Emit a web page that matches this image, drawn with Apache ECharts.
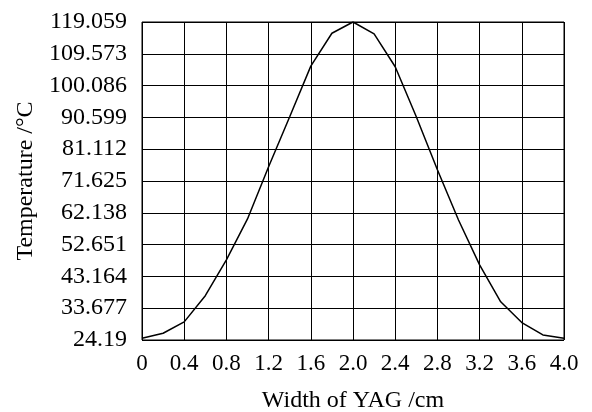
<!DOCTYPE html>
<html>
<head>
<meta charset="utf-8">
<script src="https://cdn.jsdelivr.net/npm/echarts@6/dist/echarts.min.js"></script>
<style>
  html, body { margin: 0; padding: 0; background: #fff; }
  #chart { width: 592px; height: 412px; }
</style>
</head>
<body>
<div id="chart"></div>
<script>
// width across the YAG crystal (cm), sampled every 0.2
const widths = [0, 0.2, 0.4, 0.6, 0.8, 1.0, 1.2, 1.4, 1.6, 1.8, 2.0,
  2.2, 2.4, 2.6, 2.8, 3.0, 3.2, 3.4, 3.6, 3.8, 4.0]
// temperature (°C)
const temps = [24.7, 26.2, 29.6, 37.4, 48.1, 60.3, 75.9, 90.8, 105.9, 115.7, 119.059,
  115.5, 105.7, 90.8, 75.0, 60.0, 46.6, 35.6, 29.4, 25.7, 24.7]

const yTickLabels = ['24.19', '33.677', '43.164', '52.651', '62.138', '71.625',
  '81.112', '90.599', '100.086', '109.573', '119.059']
const xTickLabels = ['0', '0.4', '0.8', '1.2', '1.6', '2.0', '2.4', '2.8', '3.2', '3.6', '4.0']

const yMin = 24.19
const yMax = 119.059
const yStep = (yMax - yMin) / 10

const FONT = "'Liberation Serif', 'DejaVu Serif', serif"

const chart = echarts.init(document.getElementById('chart'), null, { renderer: 'canvas' })

chart.setOption({
  animation: false,
  grid: {
    left: 142, right: 28, top: 22, bottom: 72,
    outerBoundsMode: 'none',
    show: true, borderColor: '#000', borderWidth: 1,
  },
  xAxis: {
    type: 'value',
    min: 0, max: 4, interval: 0.4,
    name: 'Width of YAG /cm',
    nameLocation: 'middle',
    nameGap: 49,
    nameTextStyle: { color: '#000', fontFamily: FONT, fontSize: 24 },
    axisLine: { show: false },
    axisTick: { show: false },
    axisLabel: {
      color: '#000', fontFamily: FONT, fontSize: 23, margin: 12,
      formatter: v => xTickLabels[Math.round(v / 0.4)],
    },
    splitLine: { show: true, lineStyle: { color: '#000', width: 1 } },
  },
  yAxis: {
    type: 'value',
    min: yMin, max: yMax, interval: yStep,
    name: 'Temperature /°C',
    nameLocation: 'middle',
    nameGap: 104,
    nameTextStyle: { color: '#000', fontFamily: FONT, fontSize: 24 },
    axisLine: { show: false },
    axisTick: { show: false },
    axisLabel: {
      color: '#000', fontFamily: FONT, fontSize: 24, margin: 15,
      formatter: v => yTickLabels[Math.round((v - yMin) / yStep)],
    },
    splitLine: { show: true, lineStyle: { color: '#000', width: 1 } },
  },
  series: [{
    type: 'line',
    data: widths.map((w, i) => [w, temps[i]]),
    showSymbol: false,
    smooth: false,
    lineStyle: { color: '#000', width: 1.5 },
  }],
})
</script>
</body>
</html>
